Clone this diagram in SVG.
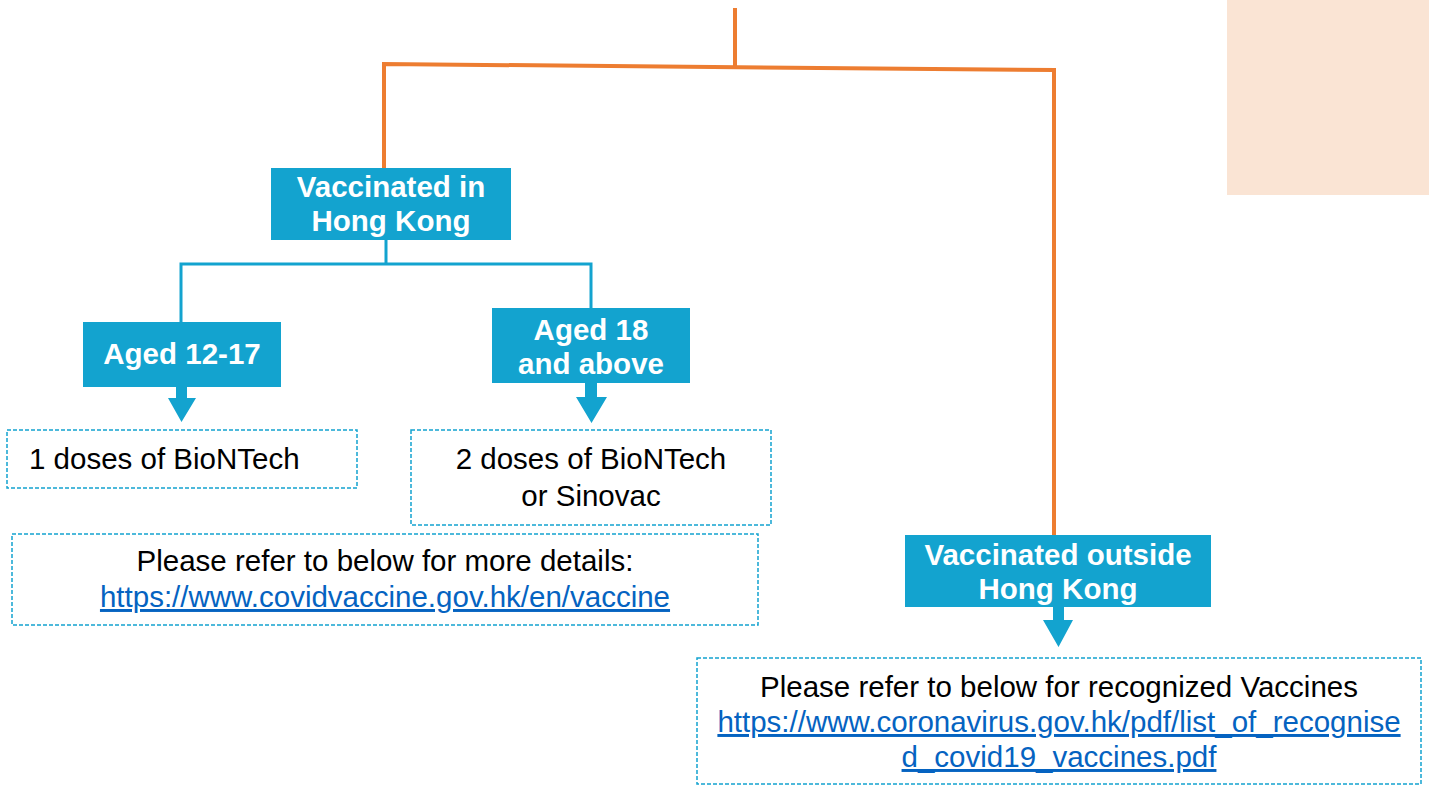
<svg xmlns="http://www.w3.org/2000/svg" width="1429" height="785" viewBox="0 0 1429 785">
<defs>
<style>
.box{fill:#13A3CF;}
.bt{font-family:"Liberation Sans",Arial,sans-serif;font-weight:bold;font-size:29.5px;fill:#fff;text-anchor:middle;}
.dash{fill:#fff;stroke:#13A3CF;stroke-width:1.5;stroke-dasharray:4 2;}
.t{font-family:"Liberation Sans",Arial,sans-serif;font-size:29.5px;fill:#000;text-anchor:middle;}
.lk{fill:#0563C1;text-decoration:underline;}
.or{fill:none;stroke:#ED7D31;stroke-width:4;}
.bl{fill:none;stroke:#13A3CF;stroke-width:3;}
.arr{fill:#13A3CF;}
</style>
</defs>
<rect x="1227" y="0" width="202" height="195" fill="#FAE4D4"/>
<g id="connectors">
<path class="or" d="M735,8 V66"/>
<path class="or" d="M384,168 V64 L1054,70 V535"/>
<path class="bl" d="M386,240 V264 M181,322 V264 H591 V308"/>
<polygon class="arr" points="176,387 187,387 187,398 196,398 181.5,422 168,398 176,398"/>
<polygon class="arr" points="585,383 597,383 597,397 607,397 591.5,423 576,397 585,397"/>
<polygon class="arr" points="1053,607 1064,607 1064,620 1073,620 1058.5,647 1043,620 1053,620"/>
</g>
<g id="hk">
<rect class="box" x="271" y="168" width="240" height="72"/>
<text class="bt" x="391" y="197">Vaccinated in</text>
<text class="bt" x="391" y="231">Hong Kong</text>
</g>
<g id="aged1217">
<rect class="box" x="83" y="322" width="198" height="65"/>
<text class="bt" x="182" y="364">Aged 12-17</text>
</g>
<g id="aged18">
<rect class="box" x="492" y="308" width="198" height="75"/>
<text class="bt" x="591" y="340">Aged 18</text>
<text class="bt" x="591" y="374">and above</text>
</g>
<g id="dose1">
<rect class="dash" x="7" y="430" width="350" height="58"/>
<text class="t" x="29" y="469" style="text-anchor:start">1 doses of BioNTech</text>
</g>
<g id="dose2">
<rect class="dash" x="411" y="430" width="360" height="95"/>
<text class="t" x="591" y="469">2 doses of BioNTech</text>
<text class="t" x="591" y="506">or Sinovac</text>
</g>
<g id="details">
<rect class="dash" x="12" y="534" width="746" height="91"/>
<text class="t" x="385" y="571">Please refer to below for more details:</text>
<text class="t lk" x="385" y="607">https://www.covidvaccine.gov.hk/en/vaccine</text>
</g>
<g id="outside">
<rect class="box" x="905" y="535" width="306" height="72"/>
<text class="bt" x="1058" y="565">Vaccinated outside</text>
<text class="bt" x="1058" y="599">Hong Kong</text>
</g>
<g id="recognized">
<rect class="dash" x="697" y="658" width="724" height="126"/>
<text class="t" x="1059" y="697">Please refer to below for recognized Vaccines</text>
<text class="t lk" x="1059" y="732">https://www.coronavirus.gov.hk/pdf/list_of_recognise</text>
<text class="t lk" x="1059" y="767">d_covid19_vaccines.pdf</text>
</g>
</svg>
